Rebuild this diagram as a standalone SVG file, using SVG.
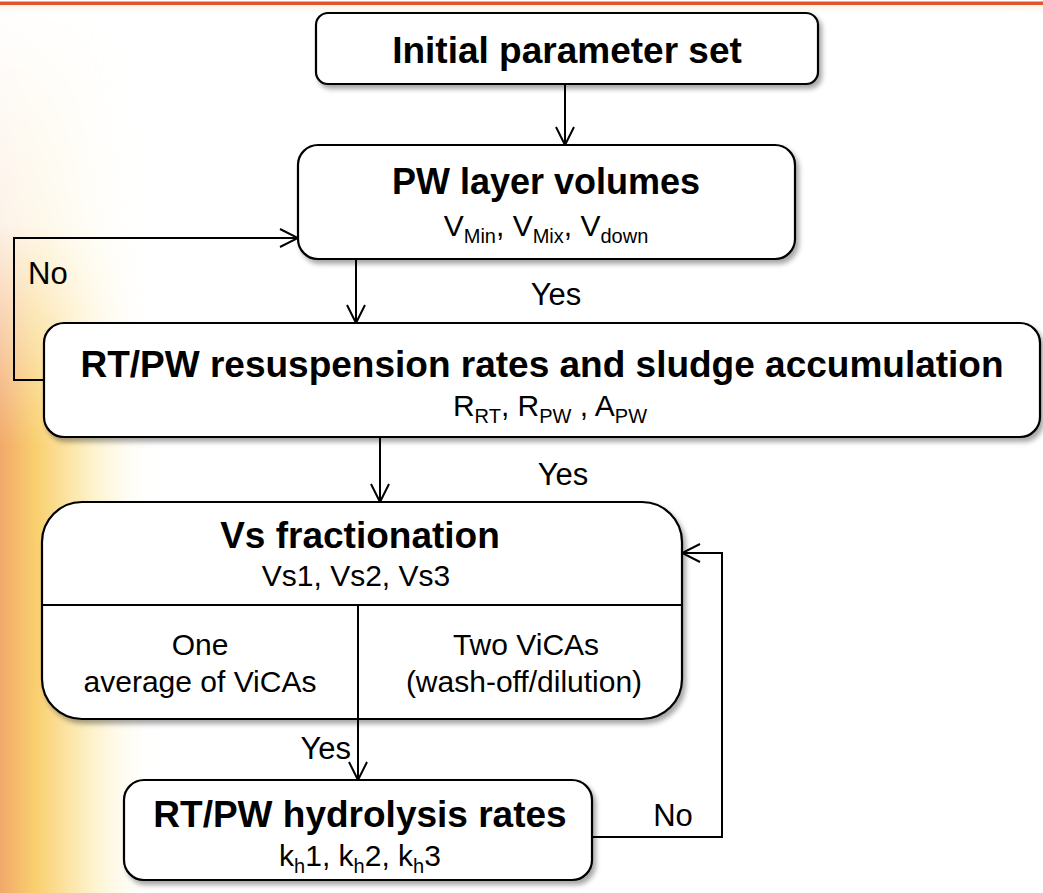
<svg xmlns="http://www.w3.org/2000/svg" width="1043" height="893" viewBox="0 0 1043 893">
<defs>
<linearGradient id="glowH" x1="0" y1="0" x2="1" y2="0">
<stop offset="0" stop-color="#f2a86a"/>
<stop offset="0.22" stop-color="#f9cf6e"/>
<stop offset="0.55" stop-color="#fdf0c4"/>
<stop offset="1" stop-color="#ffffff" stop-opacity="0"/>
</linearGradient>
<linearGradient id="glowV" x1="0" y1="0" x2="0" y2="1">
<stop offset="0" stop-color="#fff" stop-opacity="0"/>
<stop offset="0.25" stop-color="#fff" stop-opacity="0.15"/>
<stop offset="0.5" stop-color="#fff" stop-opacity="1"/>
<stop offset="1" stop-color="#fff" stop-opacity="1"/>
</linearGradient>
<mask id="glowMask"><rect x="0" y="0" width="160" height="893" fill="url(#glowV)"/></mask>
<linearGradient id="topBand" x1="0" y1="0" x2="0" y2="1">
<stop offset="0" stop-color="#fdf3e0"/>
<stop offset="1" stop-color="#ffffff"/>
</linearGradient>
<filter id="sh" x="-5%" y="-10%" width="115%" height="130%">
<feDropShadow dx="3" dy="4" stdDeviation="2.5" flood-color="#000" flood-opacity="0.35"/>
</filter>
<marker id="arr" viewBox="0 0 20 20" refX="19" refY="10" markerWidth="20" markerHeight="20" markerUnits="userSpaceOnUse" orient="auto">
<path d="M1,1 L19,10 L1,19" fill="none" stroke="#000" stroke-width="2"/>
</marker>
</defs>
<style>
.box{fill:#fff;stroke:#000;stroke-width:2.2}
.ln{fill:none;stroke:#000;stroke-width:2}
.t{font-family:"Liberation Sans",Arial,sans-serif;fill:#000}
.b{font-weight:bold;font-size:37px}
.r{font-size:30px}
.lbl{font-size:31px}
.sub{font-size:20px}
</style>
<rect width="1043" height="893" fill="#fff"/>
<rect x="0" y="0" width="160" height="893" fill="url(#glowH)" mask="url(#glowMask)"/>
<rect x="0" y="5" width="1043" height="8" fill="url(#topBand)"/>
<rect x="0" y="1.5" width="1043" height="3.5" fill="#df5530"/>

<g id="connectors">
<line class="ln" x1="565" y1="84" x2="565" y2="145" marker-end="url(#arr)"/>
<line class="ln" x1="356" y1="259" x2="356" y2="323" marker-end="url(#arr)"/>
<line class="ln" x1="380" y1="437" x2="380" y2="502" marker-end="url(#arr)"/>
<line class="ln" x1="358" y1="719" x2="358" y2="780" marker-end="url(#arr)"/>
<polyline class="ln" points="44,380 14,380 14,238 298,238" marker-end="url(#arr)"/>
<polyline class="ln" points="592,837 722,837 722,553 682,553" marker-end="url(#arr)"/>
<text class="t lbl" x="28" y="284">No</text>
<text class="t lbl" x="556" y="305" text-anchor="middle">Yes</text>
<text class="t lbl" x="563" y="485" text-anchor="middle">Yes</text>
<text class="t lbl" x="351" y="759" text-anchor="end">Yes</text>
<text class="t lbl" x="673" y="826" text-anchor="middle">No</text>
</g>

<g id="node-initial">
<rect class="box" filter="url(#sh)" x="316" y="13" width="502" height="71" rx="12"/>
<text class="t b" x="567" y="63" text-anchor="middle">Initial parameter set</text>
</g>

<g id="node-pw">
<rect class="box" filter="url(#sh)" x="298" y="145" width="497" height="114" rx="20"/>
<text class="t b" x="546" y="194" text-anchor="middle" style="font-size:36px">PW layer volumes</text>
<text class="t r" x="546" y="236" text-anchor="middle">V<tspan class="sub" dy="7">Min</tspan><tspan dy="-7">, V</tspan><tspan class="sub" dy="7">Mix</tspan><tspan dy="-7">, V</tspan><tspan class="sub" dy="7">down</tspan></text>
</g>

<g id="node-rt">
<rect class="box" filter="url(#sh)" x="44" y="323" width="996" height="114" rx="20"/>
<text class="t b" x="542" y="377" text-anchor="middle">RT/PW resuspension rates and sludge accumulation</text>
<text class="t r" x="550" y="416" text-anchor="middle">R<tspan class="sub" dy="7">RT</tspan><tspan dy="-7">, R</tspan><tspan class="sub" dy="7">PW</tspan><tspan dy="-7"> , A</tspan><tspan class="sub" dy="7">PW</tspan></text>
</g>

<g id="node-vs">
<rect class="box" filter="url(#sh)" x="42" y="502" width="640" height="217" rx="40"/>
<line class="ln" x1="42" y1="605" x2="682" y2="605"/>
<line class="ln" x1="358" y1="605" x2="358" y2="719"/>
<text class="t b" x="360" y="548" text-anchor="middle">Vs fractionation</text>
<text class="t r" x="356" y="586" text-anchor="middle">Vs1, Vs2, Vs3</text>
<text class="t r" x="200" y="655" text-anchor="middle">One</text>
<text class="t r" x="200" y="692" text-anchor="middle">average of ViCAs</text>
<text class="t r" x="526" y="655" text-anchor="middle">Two ViCAs</text>
<text class="t r" x="524" y="692" text-anchor="middle">(wash-off/dilution)</text>
</g>

<g id="node-kh">
<rect class="box" filter="url(#sh)" x="124" y="780" width="468" height="100" rx="20"/>
<text class="t b" x="360" y="827" text-anchor="middle">RT/PW hydrolysis rates</text>
<text class="t r" x="360" y="866" text-anchor="middle">k<tspan class="sub" dy="7">h</tspan><tspan dy="-7">1, k</tspan><tspan class="sub" dy="7">h</tspan><tspan dy="-7">2, k</tspan><tspan class="sub" dy="7">h</tspan><tspan dy="-7">3</tspan></text>
</g>
</svg>
